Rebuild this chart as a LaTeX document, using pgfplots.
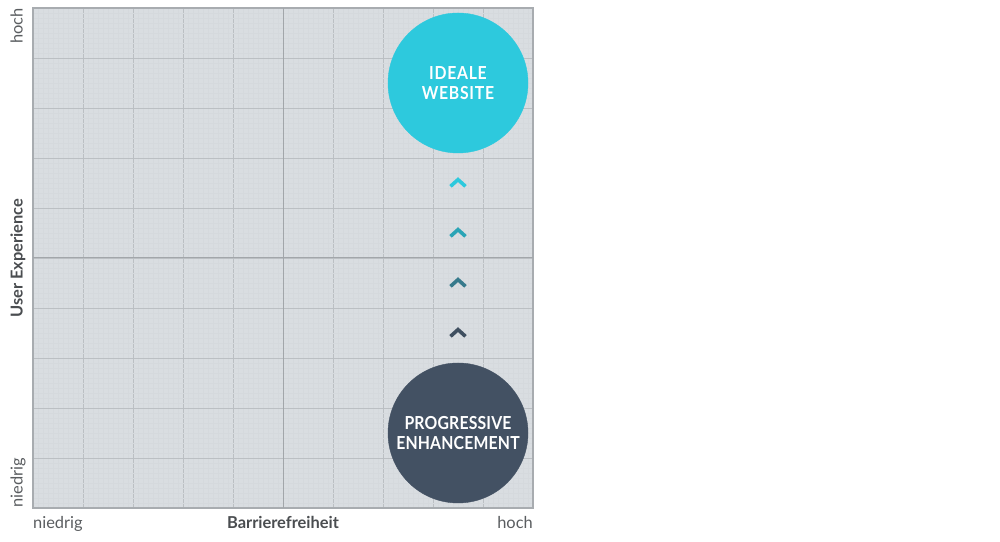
\documentclass[border=0pt]{standalone}
\usepackage{fontspec}
\setmainfont{Lato}
\usepackage{pgfplots}
\pgfplotsset{compat=1.18}

\definecolor{bgc}{HTML}{D9DDE1}
\definecolor{gridmaj}{HTML}{BBBFC3}
\definecolor{gridmin}{HTML}{D5D9DD}
\definecolor{frame}{HTML}{A8ACB0}
\definecolor{midline}{HTML}{A2A6AA}
\definecolor{lab}{HTML}{5A5D60}
\definecolor{labb}{HTML}{4A4D50}
\definecolor{cyanc}{HTML}{2DC9DD}
\definecolor{darkc}{HTML}{435163}
\definecolor{chevA}{HTML}{2DC9DD}
\definecolor{chevB}{HTML}{2AA4B6}
\definecolor{chevC}{HTML}{377A8C}
\definecolor{chevD}{HTML}{3F4F60}

\pgfdeclareplotmark{chev}{%
  \pgfpathmoveto{\pgfpoint{-\pgfplotmarksize}{-0.45\pgfplotmarksize}}%
  \pgfpathlineto{\pgfpoint{0pt}{0.45\pgfplotmarksize}}%
  \pgfpathlineto{\pgfpoint{\pgfplotmarksize}{-0.45\pgfplotmarksize}}%
  \pgfusepathqstroke}

\begin{document}
\begin{tikzpicture}[x=1bp,y=1bp]
\path[use as bounding box] (0,0) rectangle (1000,542);
\begin{axis}[
    at={(33bp,34bp)}, anchor=south west,
    scale only axis, width=500bp, height=500bp,
    xmin=0, xmax=10, ymin=0, ymax=10,
    xtick={0,1,...,10}, ytick={0,1,...,10},
    minor tick num=9,
    xticklabels={}, yticklabels={},
    tick style={draw=none},
    grid=both,
    major grid style={draw=gridmaj, line width=0.9bp},
    minor grid style={draw=gridmin, line width=0.25bp},
    axis line style={draw=frame, line width=1.2bp},
    axis background/.style={fill=bgc},
    clip=false,
]
\draw[midline, line width=1bp] (axis cs:5,0) -- (axis cs:5,10);
\draw[midline, line width=1bp] (axis cs:0,5) -- (axis cs:10,5);

% circles
\addplot[only marks, mark=*, mark size=70bp, draw=cyanc, fill=cyanc, mark options={draw=cyanc, fill=cyanc}]
  coordinates {(8.5,8.5)};
\addplot[only marks, mark=*, mark size=70bp, draw=darkc, fill=darkc, mark options={draw=darkc, fill=darkc}]
  coordinates {(8.5,1.5)};

% chevrons
\addplot[only marks, mark=chev, mark size=7.5bp, mark options={draw=chevA, line width=3.6bp, miter limit=10}]
  coordinates {(8.5,6.5)};
\addplot[only marks, mark=chev, mark size=7.5bp, mark options={draw=chevB, line width=3.6bp, miter limit=10}]
  coordinates {(8.5,5.5)};
\addplot[only marks, mark=chev, mark size=7.5bp, mark options={draw=chevC, line width=3.6bp, miter limit=10}]
  coordinates {(8.5,4.5)};
\addplot[only marks, mark=chev, mark size=7.5bp, mark options={draw=chevD, line width=3.6bp, miter limit=10}]
  coordinates {(8.5,3.5)};

\coordinate (top) at (axis cs:8.5,8.5);
\coordinate (bot) at (axis cs:8.5,1.5);

% axis texts
\node[inner sep=0pt, anchor=base west, text=lab, font=\fontsize{16.5}{16.5}\selectfont] at (rel axis cs:0,-0.042) {niedrig};
\node[inner sep=0pt, anchor=base east, text=lab, font=\fontsize{16.5}{16.5}\selectfont] at (rel axis cs:1,-0.042) {hoch};
\node[inner sep=0pt, anchor=base, text=labb, font=\fontsize{16.5}{16.5}\selectfont\bfseries] at (rel axis cs:0.5,-0.042) {Barrierefreiheit};
\node[inner sep=0pt, anchor=base west, rotate=90, text=lab, font=\fontsize{16.5}{16.5}\selectfont] at (rel axis cs:-0.021,0) {niedrig};
\node[inner sep=0pt, anchor=base east, rotate=90, text=lab, font=\fontsize{16.5}{16.5}\selectfont] at (rel axis cs:-0.021,1) {hoch};
\node[inner sep=0pt, anchor=base, rotate=90, text=labb, font=\fontsize{16.5}{16.5}\selectfont\bfseries] at (rel axis cs:-0.021,0.5) {User Experience};
\end{axis}

% circle texts
\node[text=white, align=center, font=\fontsize{18}{20}\selectfont\bfseries\addfontfeatures{FakeStretch=0.88, LetterSpace=4}]
  at (top) {IDEALE\\WEBSITE};
\node[text=white, align=center, font=\fontsize{18}{20}\selectfont\bfseries\addfontfeatures{FakeStretch=0.88, LetterSpace=1}]
  at (bot) {PROGRESSIVE\\ENHANCEMENT};
\end{tikzpicture}
\end{document}
